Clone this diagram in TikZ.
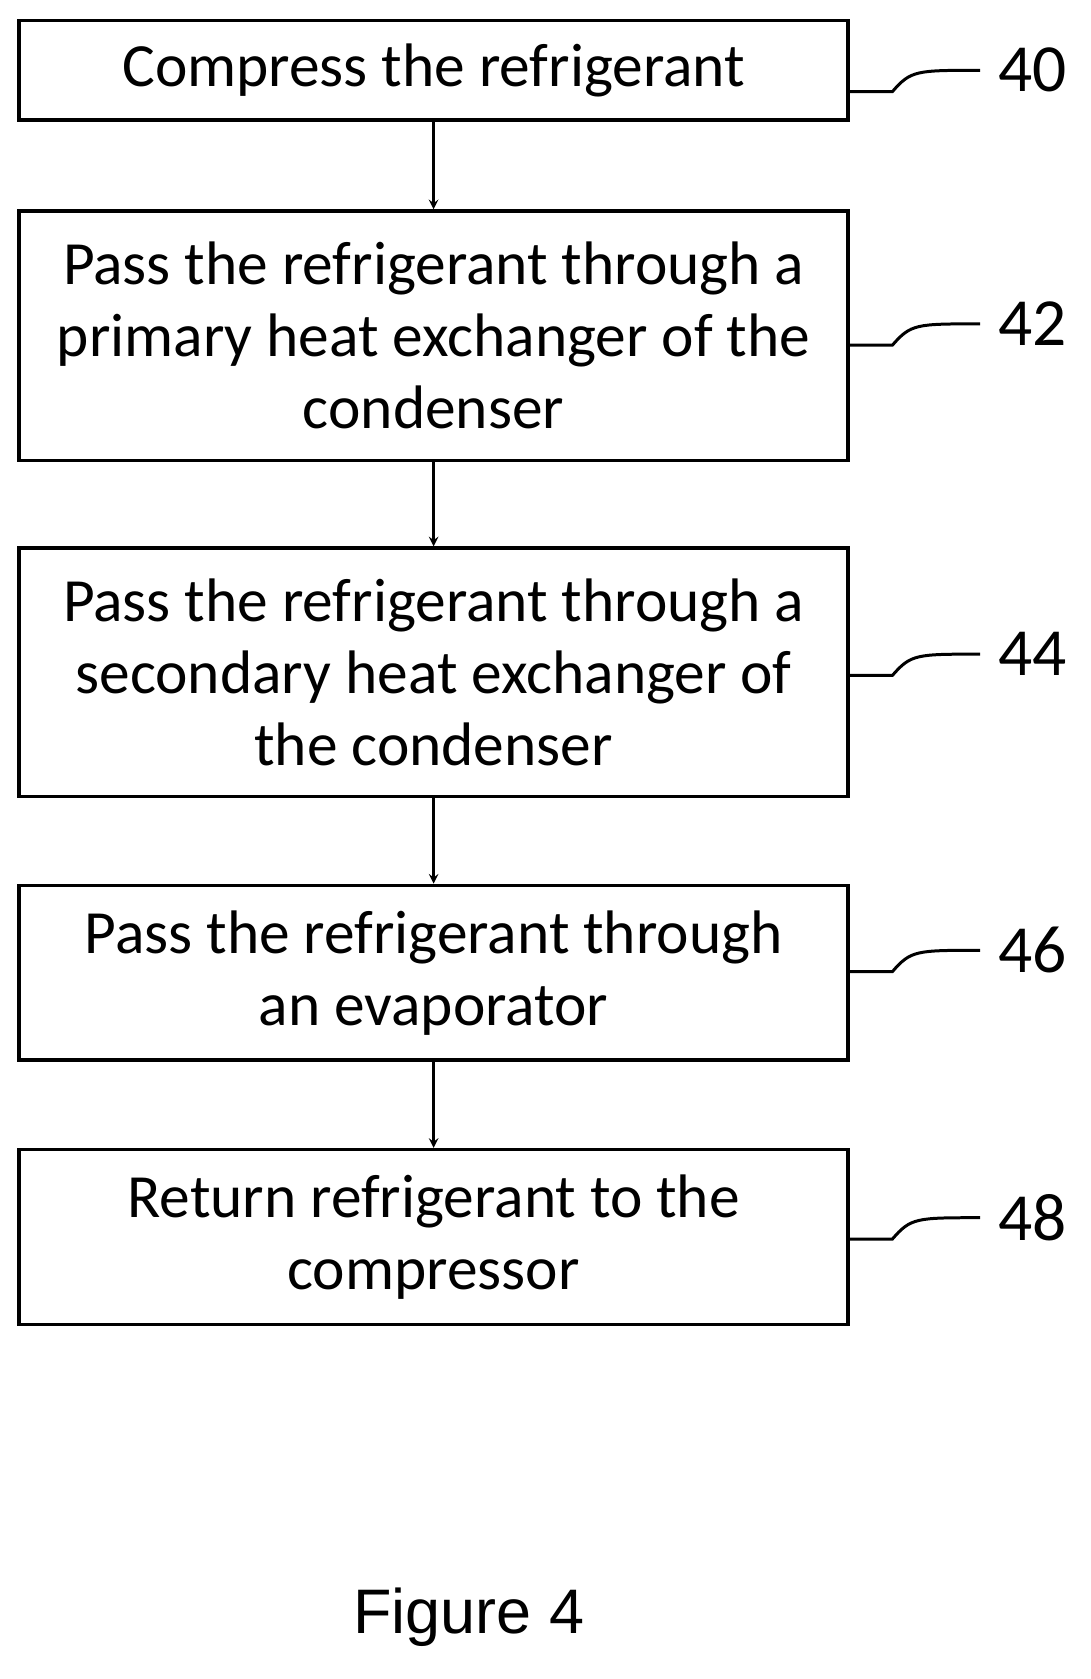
\documentclass[tikz,border=0pt]{standalone}
\usepackage{fontspec}
\setmainfont{Carlito}
\newfontfamily\figfont{Liberation Sans}
\usetikzlibrary{positioning}
\begin{document}
\begin{tikzpicture}[x=0.025cm,y=-0.025cm,
		stepbox/.style={draw, line width=2.2pt, minimum width=19.45cm, align=center, font=\fontsize{41}{48}\selectfont, inner sep=0pt},
		flow/.style={->, >=stealth, line width=1.8pt},
		ref/.style={font=\fontsize{45}{50}\selectfont, anchor=west}]
	\useasboundingbox (0,0) rectangle (1024,1576);
	% Steps
	\node[stepbox, minimum height=2.33cm] (s40) at (407,66) {Compress the refrigerant};
	\node[stepbox, minimum height=5.85cm] (s42) at (407,315) {Pass the refrigerant through a\\primary heat exchanger of the\\condenser};
	\node[stepbox, minimum height=5.83cm] (s44) at (407,631) {Pass the refrigerant through a\\secondary heat exchanger of\\the condenser};
	\node[stepbox, minimum height=4.1cm] (s46) at (407,913) {Pass the refrigerant through\\an evaporator};
	\node[stepbox, minimum height=4.1cm] (s48) at (407,1161) {Return refrigerant to the\\compressor};

	\draw[flow] (s40) -- (s42);
	\draw[flow] (s42) -- (s44);
	\draw[flow] (s44) -- (s46);
	\draw[flow] (s46) -- (s48);

	% Reference numerals
	\foreach \s/\y in {40/86, 42/324, 44/634, 46/912, 48/1163} {
		\node[ref] (n\s) at (932,\y-20) {\s};
		\coordinate (c\s) at (920,\y-20);
		\draw[line width=2pt] (s\s.east |- 0,\y) -- ++(40,0) .. controls (855,\y-20) and (860,\y-20) .. (c\s);
	}

	\node[font=\figfont\fontsize{42}{50}\selectfont] (fig) at (440,1518) {Figure 4};
\end{tikzpicture}
\end{document}
